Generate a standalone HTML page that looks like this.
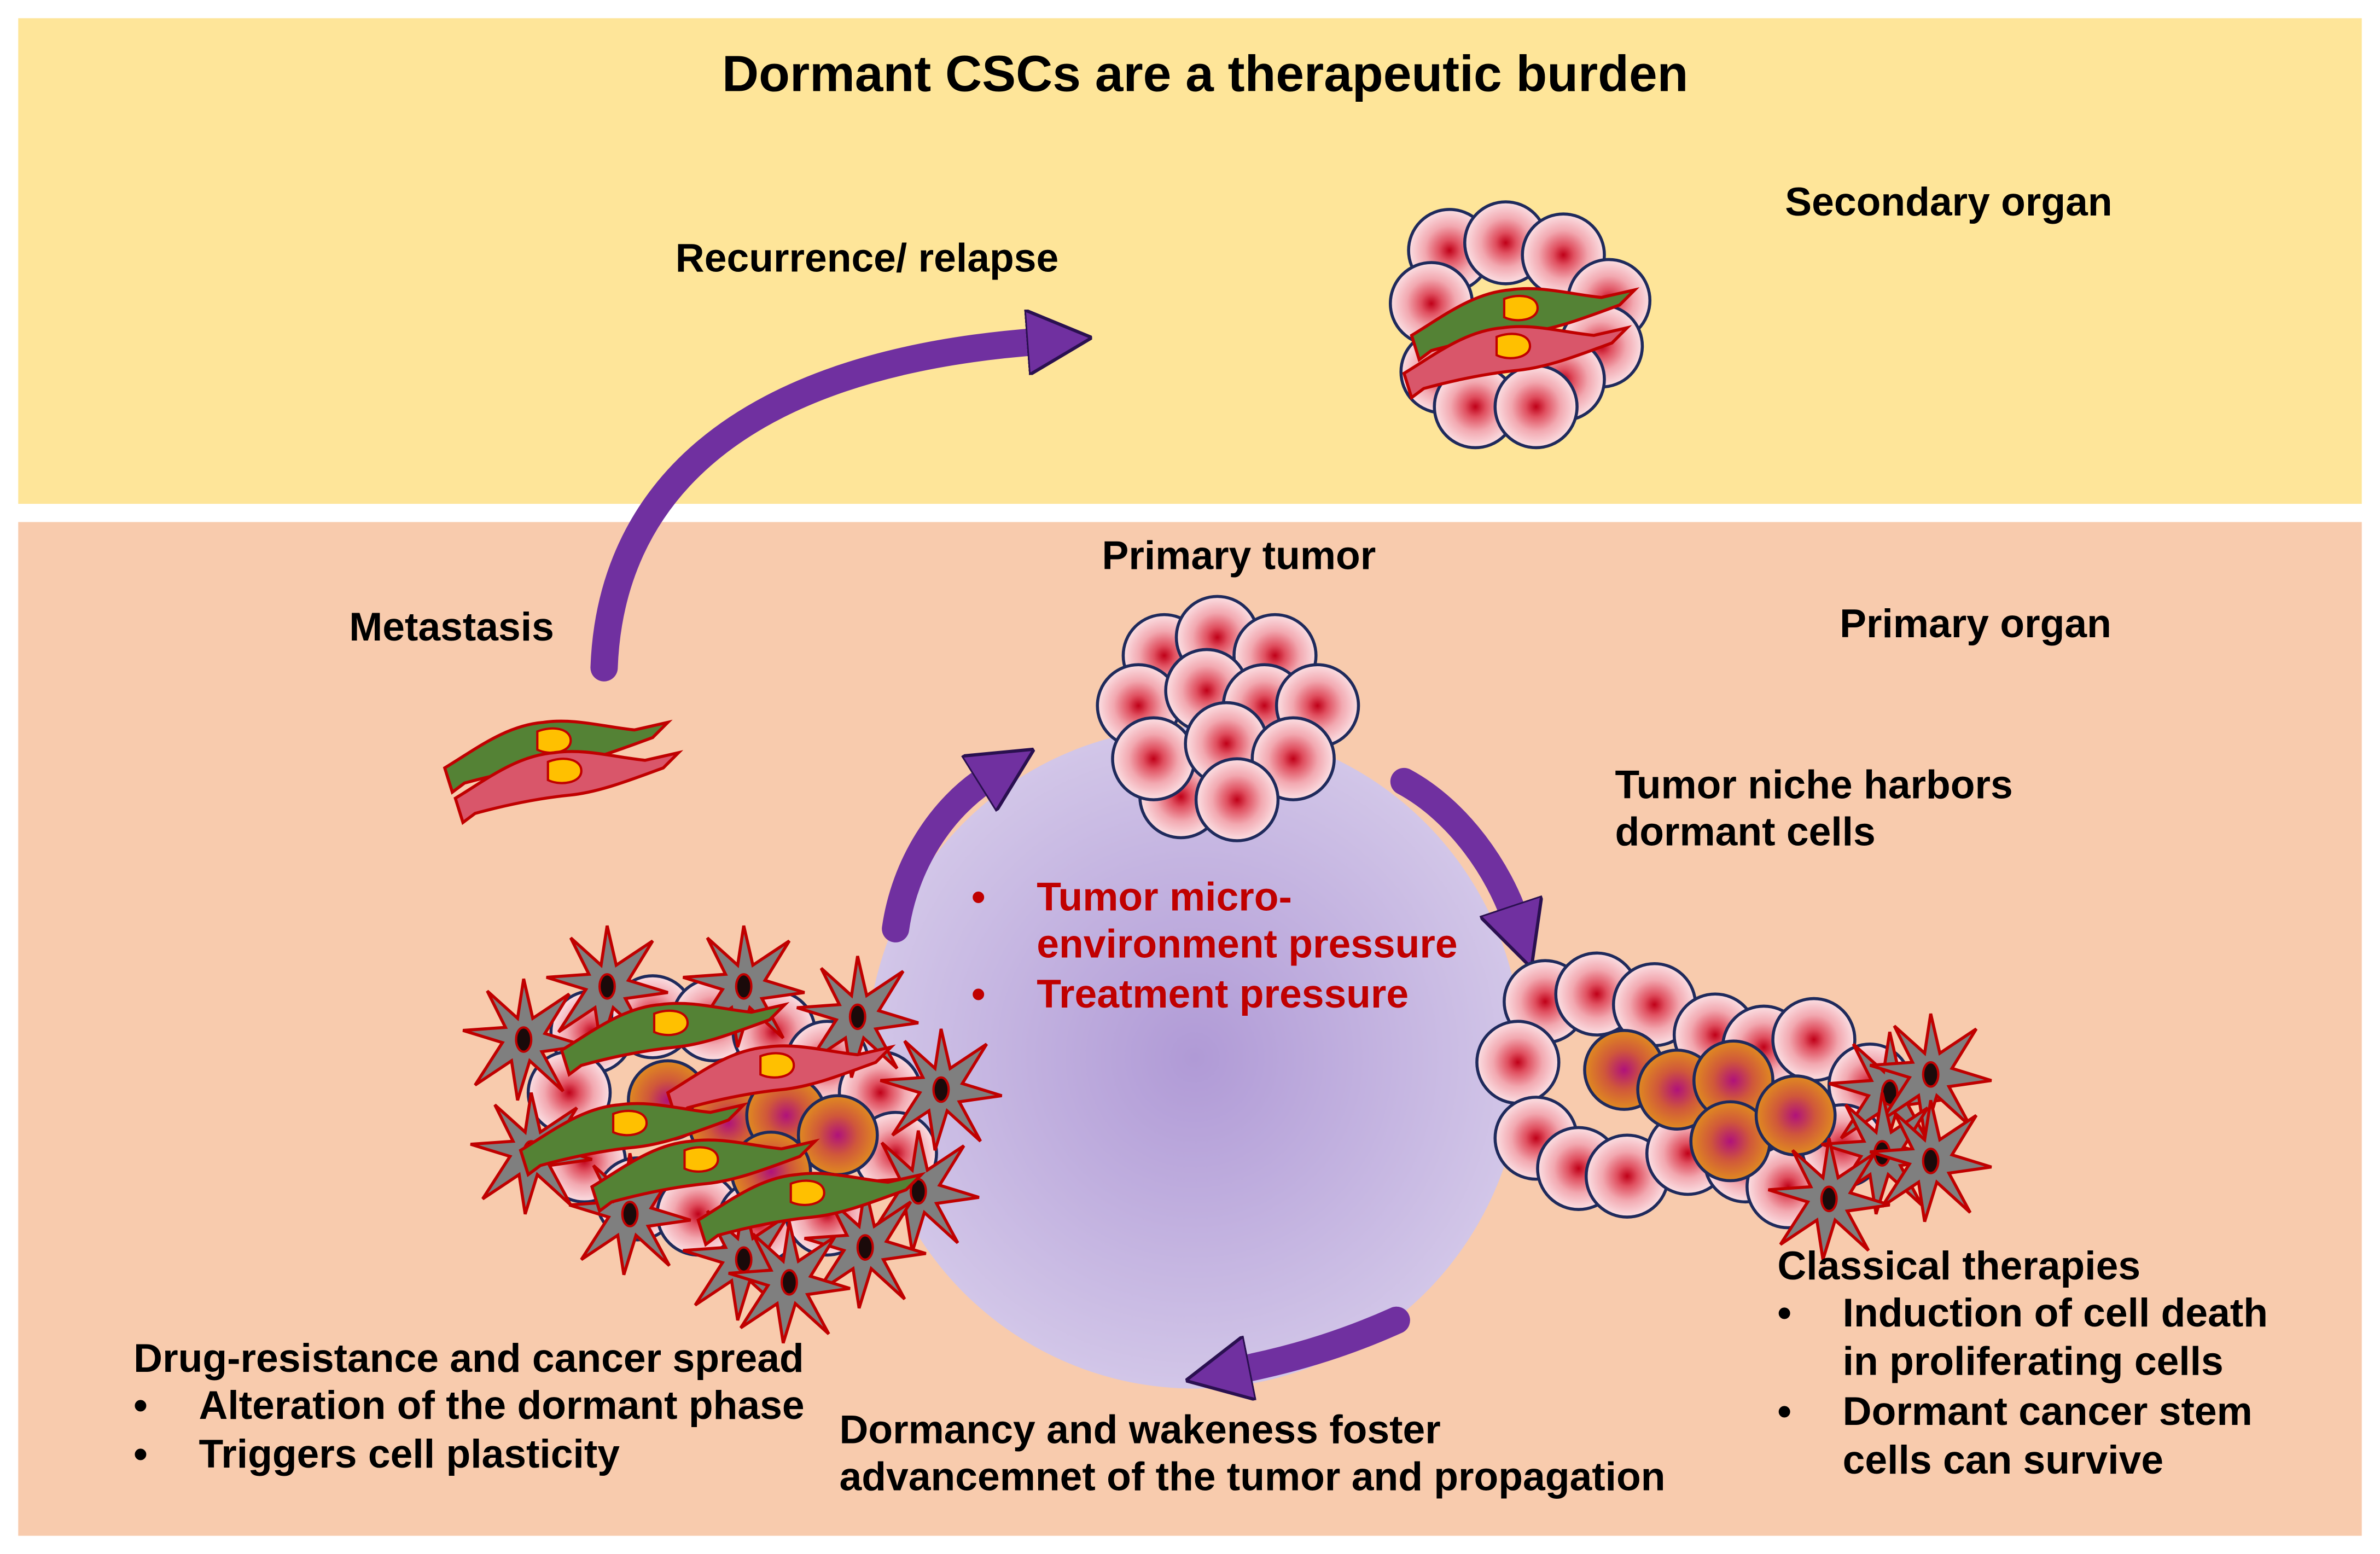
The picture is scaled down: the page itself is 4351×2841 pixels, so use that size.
<!DOCTYPE html>
<html><head><meta charset="utf-8"><style>
html,body{margin:0;padding:0;background:#fff}
svg{display:block}
text{font-family:"Liberation Sans",Arial,sans-serif;font-weight:bold;font-size:26.4px;fill:#000}
.r{fill:#C00000}
</style></head><body>
<svg width="4351" height="2841" viewBox="0 0 1568 1024" preserveAspectRatio="none" xmlns="http://www.w3.org/2000/svg">
<defs>
<radialGradient id="pk"><stop offset="0" stop-color="#C00018"/><stop offset="0.25" stop-color="#E05060"/><stop offset="0.6" stop-color="#F2A8B0"/><stop offset="1" stop-color="#FBE0E4"/></radialGradient>
<radialGradient id="og"><stop offset="0" stop-color="#B0127A"/><stop offset="0.5" stop-color="#D0583A"/><stop offset="1" stop-color="#E08A20"/></radialGradient>
<radialGradient id="big" cx="0.5" cy="0.5" r="0.5"><stop offset="0" stop-color="#B09AD6"/><stop offset="1" stop-color="#D2C6E8"/></radialGradient>
<marker id="ah" viewBox="0 0 10 10" refX="2" refY="5" markerWidth="2.4" markerHeight="2.4" orient="auto"><path d="M0,0 L10,5 L0,10 Z" fill="#7030A0" stroke="#2A1050" stroke-width="0.5"/></marker>
<g id="c"><circle r="27" fill="url(#pk)" stroke="#1F2A5C" stroke-width="2"/></g>
<g id="o"><circle r="26" fill="url(#og)" stroke="#1F2A5C" stroke-width="2"/></g>
<g id="s"><path d="M0,-40 L6,-14 L30,-30 L14,-4 L40,4 L12,8 L26,34 L4,14 L-4,40 L-8,14 L-32,30 L-14,2 L-40,-6 L-12,-8 L-24,-32 L-4,-14 Z" fill="#7F7F7F" stroke="#C00000" stroke-width="2"/><ellipse rx="5" ry="8" fill="#1a0a0a" stroke="#C00000" stroke-width="1.5"/></g>
<g id="g"><path d="M-75,14 C-55,2 -35,-14 -10,-16 C10,-19 30,-13 50,-11 L72,-16 L62,-6 C40,2 20,10 0,12 C-20,14 -40,18 -62,24 L-70,30 Z" fill="#548235" stroke="#C00000" stroke-width="2"/><path d="M-14,-10 C-4,-14 8,-12 8,-4 C8,4 -6,6 -14,2 Z" fill="#FFC000" stroke="#C00000" stroke-width="1.5"/></g>
<g id="p"><path d="M-75,14 C-55,2 -35,-14 -10,-16 C10,-19 30,-13 50,-11 L72,-16 L62,-6 C40,2 20,10 0,12 C-20,14 -40,18 -62,24 L-70,30 Z" fill="#D9566A" stroke="#C00000" stroke-width="2"/><path d="M-14,-10 C-4,-14 8,-12 8,-4 C8,4 -6,6 -14,2 Z" fill="#FFC000" stroke="#C00000" stroke-width="1.5"/></g>
</defs>
<rect x="0" y="0" width="1568" height="1024" fill="#fff"/>
<rect x="12" y="12" width="1544" height="320" fill="#FEE599"/>
<rect x="12" y="344" width="1544" height="668" fill="#F8CBAD"/>
<text x="794" y="60" text-anchor="middle" style="font-size:33.5px">Dormant CSCs are a therapeutic burden</text>

<ellipse cx="787" cy="697" rx="216" ry="218" fill="url(#big)"/>

<g fill="none" stroke="#7030A0" stroke-width="18" stroke-linecap="round">
<path d="M398,440 C402,330 480,240 685,225" marker-end="url(#ah)"/>
<path d="M590,612 C596,570 620,532 652,512" marker-end="url(#ah)"/>
<path d="M925,515 C962,535 988,575 998,605" marker-end="url(#ah)"/>
<path d="M920,870 C880,888 845,897 815,903" marker-end="url(#ah)"/>
</g>

<use href="#c" x="955" y="165"/><use href="#c" x="992" y="160"/><use href="#c" x="1030" y="168"/><use href="#c" x="1060" y="198"/>
<use href="#c" x="943" y="200"/><use href="#c" x="1055" y="228"/><use href="#c" x="950" y="245"/><use href="#c" x="1030" y="250"/>
<use href="#c" x="972" y="268"/><use href="#c" x="1012" y="268"/>
<use href="#g" x="1005" y="207"/><use href="#p" x="1000" y="232"/>

<use href="#c" x="767" y="432"/><use href="#c" x="802" y="420"/><use href="#c" x="840" y="432"/><use href="#c" x="750" y="465"/>
<use href="#c" x="795" y="455"/><use href="#c" x="833" y="465"/><use href="#c" x="868" y="465"/><use href="#c" x="778" y="525"/>
<use href="#c" x="760" y="500"/><use href="#c" x="808" y="490"/><use href="#c" x="852" y="500"/><use href="#c" x="815" y="527"/>

<use href="#g" x="368" y="492"/><use href="#p" x="375" y="512"/>

<use href="#c" x="1018" y="660"/><use href="#c" x="1052" y="655"/><use href="#c" x="1090" y="662"/><use href="#c" x="1130" y="682"/>
<use href="#c" x="1162" y="690"/><use href="#c" x="1195" y="685"/><use href="#c" x="1000" y="700"/><use href="#c" x="1232" y="715"/>
<use href="#c" x="1012" y="750"/><use href="#c" x="1040" y="770"/><use href="#c" x="1072" y="775"/><use href="#c" x="1112" y="760"/>
<use href="#c" x="1150" y="765"/><use href="#c" x="1178" y="782"/><use href="#c" x="1214" y="755"/>
<use href="#o" x="1070" y="705"/><use href="#o" x="1105" y="718"/><use href="#o" x="1142" y="712"/><use href="#o" x="1140" y="752"/><use href="#o" x="1183" y="735"/>
<use href="#s" x="1245" y="720"/><use href="#s" x="1272" y="708"/><use href="#s" x="1240" y="760"/><use href="#s" x="1272" y="765"/><use href="#s" x="1205" y="790"/>

<use href="#c" x="390" y="680"/><use href="#c" x="430" y="670"/><use href="#c" x="470" y="672"/><use href="#c" x="510" y="680"/>
<use href="#c" x="545" y="700"/><use href="#c" x="580" y="720"/><use href="#c" x="375" y="720"/><use href="#c" x="590" y="760"/>
<use href="#c" x="385" y="765"/><use href="#c" x="420" y="790"/><use href="#c" x="460" y="800"/><use href="#c" x="500" y="805"/><use href="#c" x="545" y="800"/>
<use href="#o" x="440" y="725"/><use href="#o" x="480" y="740"/><use href="#o" x="518" y="735"/><use href="#o" x="552" y="748"/><use href="#o" x="508" y="772"/>
<use href="#s" x="400" y="650"/><use href="#s" x="490" y="650"/><use href="#s" x="565" y="670"/><use href="#s" x="345" y="685"/>
<use href="#s" x="620" y="718"/><use href="#s" x="350" y="760"/><use href="#s" x="605" y="785"/><use href="#s" x="415" y="800"/>
<use href="#s" x="490" y="830"/><use href="#s" x="570" y="822"/><use href="#s" x="520" y="845"/>
<use href="#g" x="445" y="678"/><use href="#p" x="515" y="706"/><use href="#g" x="418" y="744"/><use href="#g" x="465" y="768"/><use href="#g" x="535" y="790"/>

<text x="445" y="179">Recurrence/ relapse</text>
<text x="1176" y="142">Secondary organ</text>
<text x="230" y="422">Metastasis</text>
<text x="726" y="375">Primary tumor</text>
<text x="1212" y="420">Primary organ</text>
<text x="1064" y="526">Tumor niche harbors</text>
<text x="1064" y="557">dormant cells</text>
<text x="640" y="600" class="r">•</text><text x="683" y="600" class="r">Tumor micro-</text>
<text x="683" y="631" class="r">environment pressure</text>
<text x="640" y="664" class="r">•</text><text x="683" y="664" class="r">Treatment pressure</text>
<text x="88" y="904">Drug-resistance and cancer spread</text>
<text x="88" y="935">•</text><text x="131" y="935">Alteration of the dormant phase</text>
<text x="88" y="967">•</text><text x="131" y="967">Triggers cell plasticity</text>
<text x="553" y="951">Dormancy and wakeness foster</text>
<text x="553" y="982">advancemnet of the tumor and propagation</text>
<text x="1171" y="843">Classical therapies</text>
<text x="1171" y="874">•</text><text x="1214" y="874">Induction of cell death</text>
<text x="1214" y="906">in proliferating cells</text>
<text x="1171" y="939">•</text><text x="1214" y="939">Dormant cancer stem</text>
<text x="1214" y="971">cells can survive</text>
</svg>
</body></html>
